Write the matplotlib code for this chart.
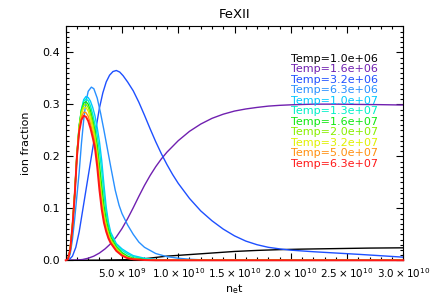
import numpy as np
import matplotlib
matplotlib.use("Agg")
import matplotlib.pyplot as plt
from matplotlib.ticker import MultipleLocator, FixedLocator

# temperatures for the legend
temps = ["1.0e+06", "1.6e+06", "3.2e+06", "6.3e+06", "1.0e+07", "1.3e+07",
         "1.6e+07", "2.0e+07", "3.2e+07", "5.0e+07", "6.3e+07"]
colors = ["#000000", "#7020B0", "#1E50FF", "#2890FF", "#00C8FF", "#00F0C8",
          "#10E810", "#88F000", "#E0F000", "#FF9010", "#FF1818"]

# n_e t in units of 1e10
x_black = [0, 0.3, 0.5, 0.7, 0.9, 1.0, 1.1, 1.3, 1.5, 1.7, 1.9, 2.1, 2.4, 2.7, 3.0]
y_black = [0, 0.0003, 0.001, 0.003, 0.008, 0.0095, 0.011, 0.014, 0.017, 0.019,
           0.0205, 0.0215, 0.0225, 0.0235, 0.024]

x_purple = [0, 0.1, 0.15, 0.2, 0.25, 0.3, 0.35, 0.4, 0.45, 0.5, 0.55, 0.6, 0.65,
            0.7, 0.75, 0.8, 0.85, 0.9, 1.0, 1.1, 1.2, 1.3, 1.4, 1.5, 1.6, 1.7,
            1.8, 1.9, 2.0, 2.2, 2.4, 2.6, 2.8, 3.0]
y_purple = [0, 0.0005, 0.0015, 0.004, 0.008, 0.014, 0.022, 0.032, 0.045, 0.061,
            0.08, 0.101, 0.123, 0.144, 0.163, 0.18, 0.195, 0.208, 0.23, 0.248,
            0.262, 0.273, 0.281, 0.287, 0.291, 0.294, 0.2965, 0.298, 0.299,
            0.3003, 0.3003, 0.2998, 0.2993, 0.2986]

x_blue = [0, 0.03, 0.06, 0.09, 0.12, 0.15, 0.18, 0.21, 0.24, 0.27, 0.3, 0.33, 0.36,
          0.39, 0.42, 0.45, 0.48, 0.51, 0.55, 0.6, 0.65, 0.7, 0.75, 0.8, 0.85,
          0.9, 0.95, 1.0, 1.1, 1.2, 1.3, 1.4, 1.5, 1.6, 1.7, 1.8, 1.9, 2.0, 2.2,
          2.4, 2.6, 2.8, 3.0]
y_blue = [0, 0.001, 0.008, 0.025, 0.055, 0.095, 0.135, 0.175, 0.215, 0.255, 0.293,
          0.322, 0.343, 0.356, 0.363, 0.365, 0.362, 0.355, 0.343, 0.326, 0.304,
          0.279, 0.253, 0.228, 0.205, 0.184, 0.165, 0.148, 0.119, 0.095, 0.076,
          0.06, 0.047, 0.037, 0.03, 0.025, 0.022, 0.0195, 0.0165, 0.014,
          0.0115, 0.0088, 0.006]

x_lblue = [0, 0.02, 0.04, 0.06, 0.08, 0.1, 0.12, 0.14, 0.16, 0.18, 0.2, 0.228, 0.25,
           0.28, 0.31, 0.34, 0.364, 0.4, 0.44, 0.474, 0.5, 0.55, 0.6, 0.65, 0.7,
           0.8, 0.9, 1.0, 1.1, 1.2, 1.4, 1.6, 3.0]
y_lblue = [0, 0.001, 0.012, 0.04, 0.08, 0.125, 0.17, 0.225, 0.27, 0.305, 0.325,
           0.333, 0.33, 0.312, 0.283, 0.25, 0.222, 0.18, 0.135, 0.106, 0.09, 0.068,
           0.05, 0.035, 0.025, 0.013, 0.007, 0.004, 0.002, 0.001, 0.0003, 0, 0]

# shared grid for the hot, fast curves
x_hot = [0, 0.02, 0.04, 0.06, 0.08, 0.1, 0.12, 0.14, 0.16, 0.18, 0.2, 0.22, 0.24,
         0.26, 0.28, 0.3, 0.32, 0.34, 0.36, 0.38, 0.4, 0.45, 0.5, 0.55, 0.6, 0.7,
         0.8, 1.0, 1.5, 3.0]
y_1e7 = [0, 0.002, 0.019, 0.06, 0.12, 0.196, 0.254, 0.29, 0.309, 0.315, 0.313,
         0.306, 0.294, 0.278, 0.255, 0.228, 0.192, 0.145, 0.102, 0.073, 0.054,
         0.032, 0.022, 0.015, 0.009, 0.004, 0.0015, 0.0003, 0, 0]
y_13e7 = [0, 0.002, 0.02, 0.064, 0.127, 0.203, 0.258, 0.29, 0.306, 0.31, 0.307,
          0.297, 0.281, 0.261, 0.24, 0.21, 0.172, 0.128, 0.092, 0.067, 0.05,
          0.03, 0.019, 0.012, 0.007, 0.003, 0.001, 0, 0, 0]
y_16e7 = [0, 0.002, 0.021, 0.067, 0.13, 0.206, 0.26, 0.289, 0.302, 0.305, 0.3,
          0.288, 0.27, 0.249, 0.222, 0.183, 0.143, 0.105, 0.078, 0.059, 0.045,
          0.026, 0.015, 0.008, 0.004, 0.0015, 0.0005, 0, 0, 0]
y_2e7 = [0, 0.002, 0.021, 0.067, 0.129, 0.205, 0.258, 0.286, 0.298, 0.3, 0.294,
         0.281, 0.263, 0.241, 0.208, 0.164, 0.123, 0.091, 0.069, 0.052, 0.04,
         0.023, 0.012, 0.0055, 0.0027, 0.0008, 0, 0, 0, 0]
y_32e7 = [0, 0.002, 0.021, 0.067, 0.128, 0.204, 0.256, 0.282, 0.293, 0.294, 0.287,
          0.273, 0.255, 0.233, 0.2, 0.155, 0.115, 0.085, 0.064, 0.049, 0.038,
          0.021, 0.011, 0.005, 0.0025, 0.0007, 0, 0, 0, 0]
y_5e7 = [0, 0.002, 0.021, 0.066, 0.127, 0.202, 0.252, 0.276, 0.285, 0.284, 0.277,
         0.263, 0.245, 0.224, 0.19, 0.145, 0.106, 0.078, 0.059, 0.045, 0.035,
         0.019, 0.01, 0.0045, 0.002, 0.0006, 0, 0, 0, 0]
y_63e7 = [0, 0.002, 0.02, 0.065, 0.125, 0.2, 0.248, 0.27, 0.278, 0.276, 0.268,
          0.254, 0.236, 0.216, 0.18, 0.135, 0.098, 0.072, 0.055, 0.042, 0.033,
          0.018, 0.009, 0.004, 0.002, 0.0005, 0, 0, 0, 0]

curves = [(x_black, y_black), (x_purple, y_purple), (x_blue, y_blue),
          (x_lblue, y_lblue), (x_hot, y_1e7), (x_hot, y_13e7), (x_hot, y_16e7),
          (x_hot, y_2e7), (x_hot, y_32e7), (x_hot, y_5e7), (x_hot, y_63e7)]

fig = plt.figure(figsize=(4.36, 3.08), dpi=100)
ax = fig.add_axes([65.7 / 436, (308 - 260.3) / 308, 337.6 / 436, 234 / 308])

for i, ((xs, ys), c) in enumerate(zip(curves, colors)):
    last = i == len(curves) - 1
    # the hottest curve sits on top and runs along the bottom axis
    ax.plot(np.array(xs) * 1e10, ys, color=c, lw=1.4 if last else 1.0,
            zorder=3 if last else 2, clip_on=not last)

ax.set_xlim(0, 3e10)
ax.set_ylim(0, 0.45)

xt = [0, 5e9, 1e10, 1.5e10, 2e10, 2.5e10, 3e10]
xl = ["", r"$5.0\times10^{9}$", r"$1.0\times10^{10}$", r"$1.5\times10^{10}$",
      r"$2.0\times10^{10}$", r"$2.5\times10^{10}$", r"$3.0\times10^{10}$"]
ax.xaxis.set_major_locator(FixedLocator(xt))
ax.set_xticklabels(xl, fontsize=7.5)
ax.xaxis.set_minor_locator(MultipleLocator(1e9))
ax.yaxis.set_major_locator(FixedLocator([0, 0.1, 0.2, 0.3, 0.4]))
ax.set_yticklabels(["0.0", "0.1", "0.2", "0.3", "0.4"], fontsize=8)
ax.yaxis.set_minor_locator(MultipleLocator(0.01))
ax.tick_params(which="both", direction="in", top=True, right=True, width=0.8)
ax.tick_params(which="major", length=5, pad=4)
ax.tick_params(which="minor", length=2.5)
for s in ax.spines.values():
    s.set_linewidth(0.8)

ax.set_title("FeXII", fontsize=9.5, pad=6)
ax.set_xlabel(r"n$_\mathregular{e}$t", fontsize=8, labelpad=2)
ax.set_ylabel("ion fraction", fontsize=8, labelpad=8)

for i, (t, c) in enumerate(zip(temps, colors)):
    ax.text(0.666, 0.862 - i * 0.0449, "Temp=" + t, color=c, fontsize=8,
            transform=ax.transAxes, va="center", ha="left")

fig.savefig("out.png", dpi=100)
